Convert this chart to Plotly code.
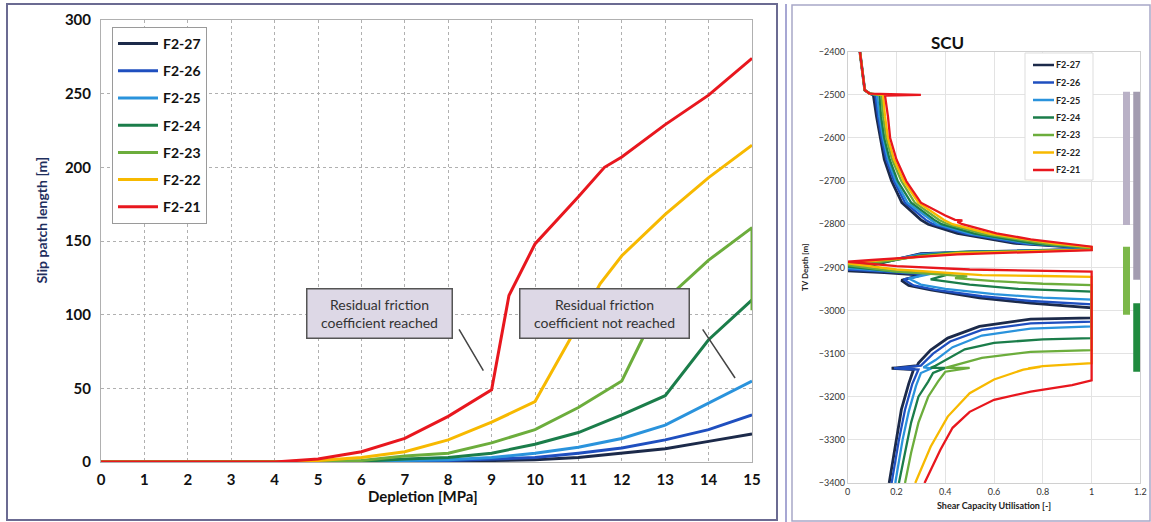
import plotly.graph_objects as go

# ---------------- Slip patch length vs depletion ----------------
depletion = [0, 1, 2, 3, 4, 5, 6, 7, 8, 9, 10, 11, 12, 13, 14, 15]

slip_f2_27 = [0, 0, 0, 0, 0, 0, 0, 0, 0.5, 1, 1.5, 3, 6, 9, 14, 19]
slip_f2_26 = [0, 0, 0, 0, 0, 0, 0, 0.5, 1, 2, 3, 6, 9.5, 15, 22, 32]
slip_f2_25 = [0, 0, 0, 0, 0, 0, 0, 1, 1.5, 3, 6, 10, 16, 25, 40, 55]
slip_f2_24 = [0, 0, 0, 0, 0, 0, 0.5, 2, 3, 6, 12, 20, 32, 45, 83, 110]

slip_f2_23_x = [0, 1, 2, 3, 4, 5, 6, 7, 8, 9, 10, 11, 12, 12.5, 13, 14, 15, 15]
slip_f2_23 = [0, 0, 0, 0, 0, 0, 1, 4, 6, 13, 22, 37, 55, 85, 110, 137, 159, 103]

slip_f2_22_x = [0, 1, 2, 3, 4, 5, 6, 7, 8, 9, 10, 10.8, 11.5, 12, 13, 14, 15]
slip_f2_22 = [0, 0, 0, 0, 0, 1, 3, 7, 15, 27, 41, 83, 121, 140, 168, 193, 215]

slip_f2_21_x = [0, 1, 2, 3, 4, 5, 6, 7, 8, 9, 9.4, 10, 11, 11.6, 12, 13, 14, 15]
slip_f2_21 = [0, 0, 0, 0, 0, 2, 7, 16, 31, 49, 113, 148, 180, 200, 207, 229, 249, 274]

fault_names = ["F2-27", "F2-26", "F2-25", "F2-24", "F2-23", "F2-22", "F2-21"]
fault_colors = ["#1c2a4a", "#1f4fbf", "#2a93dc", "#1b7d4a", "#6cad3c", "#f7b900", "#e8171e"]

slip_x = [depletion, depletion, depletion, depletion, slip_f2_23_x, slip_f2_22_x, slip_f2_21_x]
slip_y = [slip_f2_27, slip_f2_26, slip_f2_25, slip_f2_24, slip_f2_23, slip_f2_22, slip_f2_21]

# ---------------- Shear capacity utilisation profiles (x = SCU, d = TV depth) ----------------
scu_f2_27 = [(0.05, -2400), (0.06, -2450), (0.07, -2489), (0.09, -2497), (0.105, -2500),
             (0.118, -2550), (0.133, -2600), (0.15, -2650), (0.18, -2700), (0.222, -2750),
             (0.30, -2790), (0.33, -2800), (0.45, -2821), (0.68, -2844), (1.0, -2856),
             (1.0, -2858), (0.5, -2864), (0.3, -2868), (0.1, -2895), (0.0, -2908),
             (0.15, -2912), (0.30, -2918), (0.22, -2930), (0.25, -2942), (0.34, -2952),
             (0.54, -2971), (0.75, -2983), (1.0, -2994), (1.0, -3017), (0.75, -3020),
             (0.54, -3037), (0.41, -3064), (0.34, -3092), (0.29, -3122), (0.285, -3128),
             (0.18, -3134), (0.27, -3137), (0.25, -3170), (0.22, -3230), (0.20, -3300),
             (0.17, -3400)]

scu_f2_26 = [(0.05, -2400), (0.06, -2450), (0.07, -2489), (0.09, -2497), (0.113, -2500),
             (0.124, -2550), (0.139, -2600), (0.158, -2650), (0.19, -2700), (0.235, -2750),
             (0.32, -2790), (0.35, -2800), (0.48, -2822), (0.72, -2845), (1.0, -2856),
             (1.0, -2858), (0.5, -2864), (0.3, -2869), (0.1, -2893), (0.0, -2905),
             (0.15, -2910), (0.32, -2916), (0.23, -2928), (0.27, -2942), (0.36, -2952),
             (0.55, -2967), (0.75, -2978), (1.0, -2986), (1.0, -3026), (0.75, -3030),
             (0.55, -3045), (0.42, -3072), (0.35, -3100), (0.30, -3128), (0.19, -3134),
             (0.29, -3137), (0.265, -3170), (0.235, -3230), (0.21, -3300), (0.18, -3400)]

scu_f2_25 = [(0.05, -2400), (0.06, -2450), (0.07, -2489), (0.09, -2497), (0.12, -2500),
             (0.13, -2550), (0.145, -2600), (0.165, -2650), (0.197, -2700), (0.245, -2750),
             (0.34, -2790), (0.365, -2800), (0.5, -2822), (0.75, -2845), (1.0, -2855),
             (1.0, -2858), (0.45, -2865), (0.3, -2870), (0.1, -2891), (0.0, -2902),
             (0.15, -2908), (0.34, -2915), (0.25, -2926), (0.30, -2940), (0.40, -2950),
             (0.60, -2962), (0.80, -2970), (1.0, -2975), (1.0, -3037), (0.75, -3042),
             (0.55, -3058), (0.43, -3085), (0.36, -3115), (0.31, -3132), (0.345, -3134),
             (0.30, -3145), (0.28, -3175), (0.25, -3235), (0.225, -3300), (0.195, -3400)]

scu_f2_24 = [(0.05, -2400), (0.06, -2450), (0.07, -2489), (0.09, -2497), (0.13, -2500),
             (0.137, -2550), (0.15, -2600), (0.172, -2650), (0.205, -2700), (0.26, -2750),
             (0.355, -2790), (0.385, -2800), (0.52, -2822), (0.78, -2846), (1.0, -2855),
             (1.0, -2859), (0.45, -2865), (0.3, -2872), (0.1, -2893), (0.0, -2898),
             (0.2, -2910), (0.42, -2915), (0.34, -2928), (0.5, -2940), (0.7, -2950),
             (1.0, -2956), (1.0, -3064), (0.8, -3067), (0.6, -3075), (0.48, -3090),
             (0.42, -3110), (0.36, -3128), (0.34, -3133), (0.40, -3133), (0.35, -3145),
             (0.33, -3165), (0.29, -3200), (0.26, -3260), (0.235, -3330), (0.21, -3400)]

scu_f2_23 = [(0.05, -2400), (0.06, -2450), (0.07, -2489), (0.09, -2497), (0.138, -2500),
             (0.145, -2550), (0.158, -2600), (0.182, -2650), (0.22, -2700), (0.275, -2750),
             (0.375, -2790), (0.41, -2800), (0.55, -2822), (0.82, -2846), (1.0, -2854),
             (1.0, -2859), (0.45, -2866), (0.3, -2874), (0.1, -2890), (0.0, -2895),
             (0.2, -2910), (0.42, -2918), (0.49, -2921), (0.44, -2925), (0.6, -2932),
             (0.8, -2938), (1.0, -2941), (1.0, -3092), (0.75, -3096), (0.55, -3110),
             (0.45, -3125), (0.40, -3133), (0.50, -3133), (0.40, -3142), (0.37, -3165),
             (0.33, -3200), (0.29, -3260), (0.26, -3330), (0.235, -3400)]

scu_f2_22 = [(0.05, -2400), (0.06, -2450), (0.07, -2489), (0.09, -2497), (0.145, -2500),
             (0.153, -2550), (0.165, -2600), (0.19, -2650), (0.23, -2700), (0.29, -2750),
             (0.395, -2790), (0.43, -2800), (0.58, -2822), (0.85, -2845), (1.0, -2853),
             (1.0, -2859), (0.45, -2867), (0.3, -2875), (0.1, -2886), (0.0, -2891),
             (0.2, -2905), (0.5, -2915), (0.55, -2918), (0.8, -2920), (1.0, -2922),
             (1.0, -3122), (0.85, -3126), (0.80, -3129), (0.74, -3134), (0.79, -3131),
             (0.72, -3137), (0.6, -3160), (0.5, -3192), (0.41, -3246), (0.34, -3316),
             (0.277, -3400)]

scu_f2_21 = [(0.05, -2400), (0.06, -2450), (0.07, -2489), (0.09, -2497), (0.30, -2500),
             (0.153, -2502), (0.165, -2550), (0.174, -2600), (0.2, -2650), (0.24, -2700),
             (0.30, -2750), (0.40, -2780), (0.44, -2790), (0.47, -2791), (0.45, -2795),
             (0.47, -2800), (0.61, -2821), (0.75, -2835), (0.88, -2844), (1.0, -2852),
             (1.0, -2860), (0.45, -2870), (0.1, -2883), (0.0, -2887), (0.2, -2897),
             (0.5, -2905), (1.0, -2910), (1.0, -3162), (0.92, -3173), (0.75, -3188),
             (0.6, -3207), (0.5, -3235), (0.43, -3272), (0.38, -3323), (0.315, -3400)]

scu_profiles = [scu_f2_27, scu_f2_26, scu_f2_25, scu_f2_24, scu_f2_23, scu_f2_22, scu_f2_21]

# Reservoir / zone indicator bars at the right of the SCU panel
zone_x = [1.143, 1.185, 1.143, 1.185]
zone_top = [-2493, -2493, -2852, -2983]
zone_bottom = [-2802, -2929, -3010, -3142]
zone_colors = ["#b9b1c6", "#a39cb0", "#7cb84a", "#1f8a3e"]

# ---------------- Layout helpers ----------------
W, H = 1151, 522


def px_x(p):
    return p / W


def px_y(p):
    return 1 - p / H


FONT = "Lato"
fig = go.Figure()

for name, color, xs, ys in zip(fault_names, fault_colors, slip_x, slip_y):
    fig.add_trace(go.Scatter(
        x=xs, y=ys, mode="lines", name=name,
        line=dict(color=color, width=3),
        legend="legend", legendgroup="L" + name,
        xaxis="x", yaxis="y",
    ))

for name, color, prof in zip(fault_names, fault_colors, scu_profiles):
    fig.add_trace(go.Scatter(
        x=[p[0] for p in prof], y=[p[1] for p in prof], mode="lines", name=name,
        line=dict(color=color, width=2.8 if name == "F2-27" else 2.3),
        showlegend=False, xaxis="x2", yaxis="y2",
    ))

for zx, zt, zb, zc in zip(zone_x, zone_top, zone_bottom, zone_colors):
    fig.add_trace(go.Scatter(
        x=[zx, zx], y=[zt, zb], mode="lines", showlegend=False,
        line=dict(color=zc, width=7), xaxis="x2", yaxis="y2", hoverinfo="skip",
    ))

grid_dot = dict(showgrid=True, gridcolor="#b0b0b0", griddash="dot", gridwidth=1)

fig.update_layout(
    width=W, height=H,
    margin=dict(l=0, r=0, t=0, b=0, autoexpand=False),
    paper_bgcolor="white", plot_bgcolor="white",
    font=dict(family=FONT, color="#111"),
    xaxis=dict(
        domain=[px_x(101), px_x(752)], range=[0, 15], dtick=1, tick0=0,
        **grid_dot, zeroline=False, automargin=False,
        showline=True, linecolor="#b0b0b0", mirror=True,
        ticks="", ticklabelstandoff=4,
        tickfont=dict(size=15, family=FONT, weight="bold", color="#111"),
    ),
    yaxis=dict(
        domain=[px_y(462), px_y(20)], range=[0, 300], dtick=50,
        **grid_dot, zeroline=False, automargin=False,
        showline=True, linecolor="#b0b0b0", mirror=True,
        ticks="", ticklabelstandoff=6,
        tickfont=dict(size=15, family=FONT, weight="bold", color="#111"),
    ),
    xaxis2=dict(
        domain=[px_x(847.7), px_x(1140.4)], range=[0, 1.2], dtick=0.2,
        showgrid=True, gridcolor="#e3e3e3", zeroline=False, automargin=False,
        showline=True, linecolor="#d0d0d0", mirror=True,
        ticks="", tickfont=dict(size=9, family=FONT, color="#333"),
        anchor="y2",
        title=dict(text="Shear Capacity Utilisation [-]", standoff=6,
                   font=dict(size=9, family=FONT, weight="bold", color="#222")),
    ),
    yaxis2=dict(
        domain=[px_y(483), px_y(51.7)], range=[-3400, -2400], dtick=100,
        showgrid=True, gridcolor="#e3e3e3", zeroline=False, automargin=False,
        showline=True, linecolor="#d0d0d0", mirror=True,
        ticks="", tickfont=dict(size=9, family=FONT, color="#333"),
        anchor="x2",
        title=dict(text="TV Depth [m]", standoff=8,
                   font=dict(size=8, family=FONT, weight="bold", color="#222")),
    ),
    legend=dict(
        x=px_x(112), y=px_y(27), xanchor="left", yanchor="top",
        bgcolor="white", bordercolor="#9a9a9a", borderwidth=1,
        font=dict(size=14, family=FONT, weight="bold", color="#111"),
        itemwidth=40, tracegroupgap=6, traceorder="grouped",
    ),
    showlegend=True,
)

# axis titles of the depletion panel
fig.add_annotation(x=px_x(366), y=px_y(507), xref="paper", yref="paper",
                   text="<b>Depletion [MPa]</b>", showarrow=False,
                   font=dict(size=15, family=FONT, color="#111"))
fig.add_annotation(x=px_x(30), y=px_y(220), xref="paper", yref="paper",
                   text="<b>Slip patch length [m]</b>", showarrow=False, textangle=-90,
                   font=dict(size=14, family=FONT, color="#1f2f5e"))

box_style = dict(bgcolor="#ddd8e6", bordercolor="#555555", borderwidth=1.5,
                 font=dict(size=14, family=FONT, color="#333"), width=142, height=46,
                 xref="x", yref="y")
fig.add_annotation(x=6.41, y=101, text="Residual friction<br>coefficient reached",
                   showarrow=False, **box_style)
fig.add_annotation(x=11.6, y=101, text="Residual friction<br>coefficient not reached",
                   showarrow=False, **{**box_style, "width": 166})
# leader lines from the boxes toward the curves
fig.add_annotation(x=8.81, y=62, ax=8.23, ay=91, xref="x", yref="y", axref="x", ayref="y",
                   showarrow=True, arrowhead=0, arrowwidth=1.5, arrowcolor="#444", text="")
fig.add_annotation(x=14.61, y=57, ax=13.84, ay=91, xref="x", yref="y", axref="x", ayref="y",
                   showarrow=True, arrowhead=0, arrowwidth=1.5, arrowcolor="#444", text="")

fig.add_annotation(x=px_x(966), y=px_y(30), xref="paper", yref="paper", text="<b>SCU</b>",
                   showarrow=False, font=dict(size=17, family=FONT, color="#111"))

# compact key for the SCU panel
fig.add_shape(type="rect", xref="paper", yref="paper",
              x0=px_x(1025), x1=px_x(1093), y0=px_y(180), y1=px_y(53),
              line=dict(color="#dddddd", width=1), fillcolor="white", layer="above")
for i, (name, color) in enumerate(zip(fault_names, fault_colors)):
    ypos = 65 + i * 17.5
    fig.add_shape(type="line", xref="paper", yref="paper",
                  x0=px_x(1033), x1=px_x(1054), y0=px_y(ypos), y1=px_y(ypos),
                  line=dict(color=color, width=2.5), layer="above")
    fig.add_annotation(x=px_x(1055), y=px_y(ypos), xref="paper", yref="paper",
                       text=name, showarrow=False, xanchor="left", yanchor="middle",
                       borderpad=0,
                       font=dict(size=9, family=FONT, weight="bold", color="#222"))

# panel frames
fig.add_shape(type="rect", xref="paper", yref="paper",
              x0=px_x(7), x1=px_x(777), y0=px_y(520), y1=px_y(4),
              line=dict(color="#6b6b92", width=2))
fig.add_shape(type="line", xref="paper", yref="paper",
              x0=px_x(786), x1=px_x(786), y0=px_y(522), y1=px_y(4),
              line=dict(color="#8a8ac4", width=1.5))
fig.add_shape(type="rect", xref="paper", yref="paper",
              x0=px_x(792), x1=px_x(1150), y0=px_y(521), y1=px_y(5),
              line=dict(color="#a8a8c8", width=1.5))

fig.write_html("out.html")
